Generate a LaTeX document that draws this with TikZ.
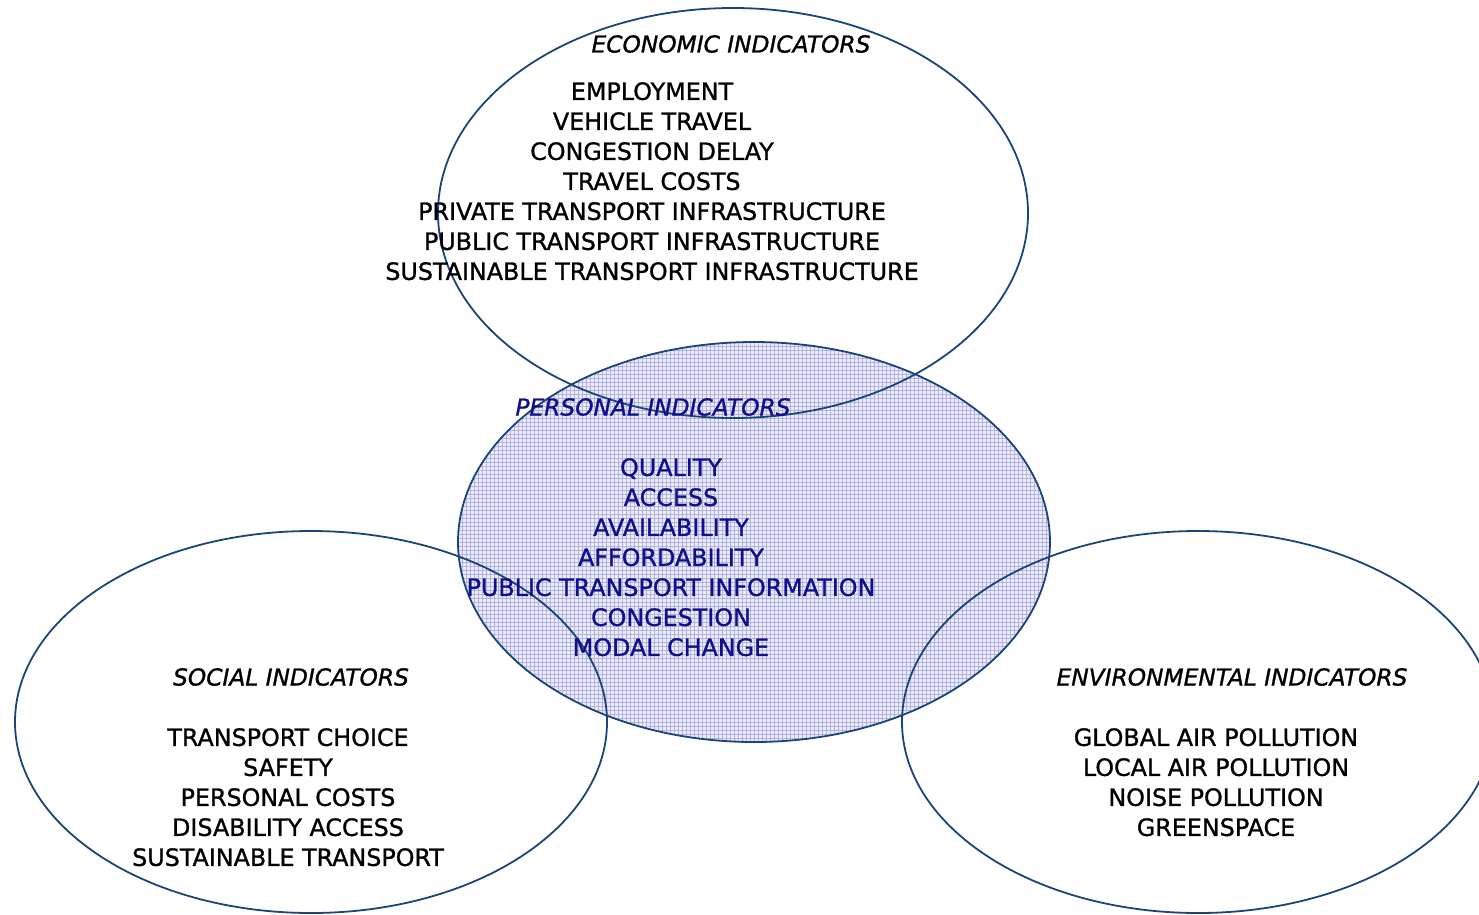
\documentclass[tikz,border=0pt]{standalone}
\usepackage{fontspec}
\setmainfont{DejaVu Sans}[FakeBold=1.1]
\begin{document}
\begin{tikzpicture}[x=1pt,y=-1pt,
  ring/.style={draw=ringblue, line width=1.8pt},
  item/.style={inner sep=0pt, align=center, anchor=north, font=\fontsize{23.8}{30}\selectfont},
  title/.style={inner sep=0pt, anchor=north, font=\fontsize{23.3}{30}\selectfont\itshape},
  pitem/.style={item, text=navytext},
  ptitle/.style={title, text=navytext}]
\definecolor{ringblue}{RGB}{28,68,122}
\definecolor{navytext}{RGB}{16,16,140}
\definecolor{gridfill}{RGB}{236,236,250}
\definecolor{gridline}{RGB}{178,178,226}
\useasboundingbox (0,0) rectangle (1479,914);
% personal fill with grid
\fill[gridfill] (754,542) ellipse [x radius=296pt, y radius=200pt];
\begin{scope}
  \clip (754,542) ellipse [x radius=296pt, y radius=200pt];
  \foreach \x in {458,462,...,1052} \draw[gridline, line width=1pt] (\x,340) -- (\x,744);
  \foreach \y in {342,346,...,744} \draw[gridline, line width=1pt] (456,\y) -- (1052,\y);
\end{scope}
% outlines
\draw[ring] (754,542) ellipse [x radius=296pt, y radius=200pt];
\draw[ring] (733,213) ellipse [x radius=295pt, y radius=205pt];
\draw[ring] (311,722) ellipse [x radius=296pt, y radius=191pt];
\draw[ring] (1198,722) ellipse [x radius=296pt, y radius=191pt];
% economic
\node[title] (ecoT) at (731,35) {ECONOMIC INDICATORS};
\node[item] (ecoI) at (652,82) {EMPLOYMENT\\VEHICLE TRAVEL\\CONGESTION DELAY\\TRAVEL COSTS\\PRIVATE TRANSPORT INFRASTRUCTURE\\PUBLIC TRANSPORT INFRASTRUCTURE\\SUSTAINABLE TRANSPORT INFRASTRUCTURE};
% personal
\node[ptitle] (perT) at (653,398) {PERSONAL INDICATORS};
\node[pitem] (perI) at (671,458) {QUALITY\\ACCESS\\AVAILABILITY\\AFFORDABILITY\\PUBLIC TRANSPORT INFORMATION\\CONGESTION\\MODAL CHANGE};
% social
\node[title] (socT) at (291,668) {SOCIAL INDICATORS};
\node[item] (socI) at (288,728) {TRANSPORT CHOICE\\SAFETY\\PERSONAL COSTS\\DISABILITY ACCESS\\SUSTAINABLE TRANSPORT};
% environmental
\node[title] (envT) at (1232,668) {ENVIRONMENTAL INDICATORS};
\node[item] (envI) at (1216,728) {GLOBAL AIR POLLUTION\\LOCAL AIR POLLUTION\\NOISE POLLUTION\\GREENSPACE};
\end{tikzpicture}
\end{document}
